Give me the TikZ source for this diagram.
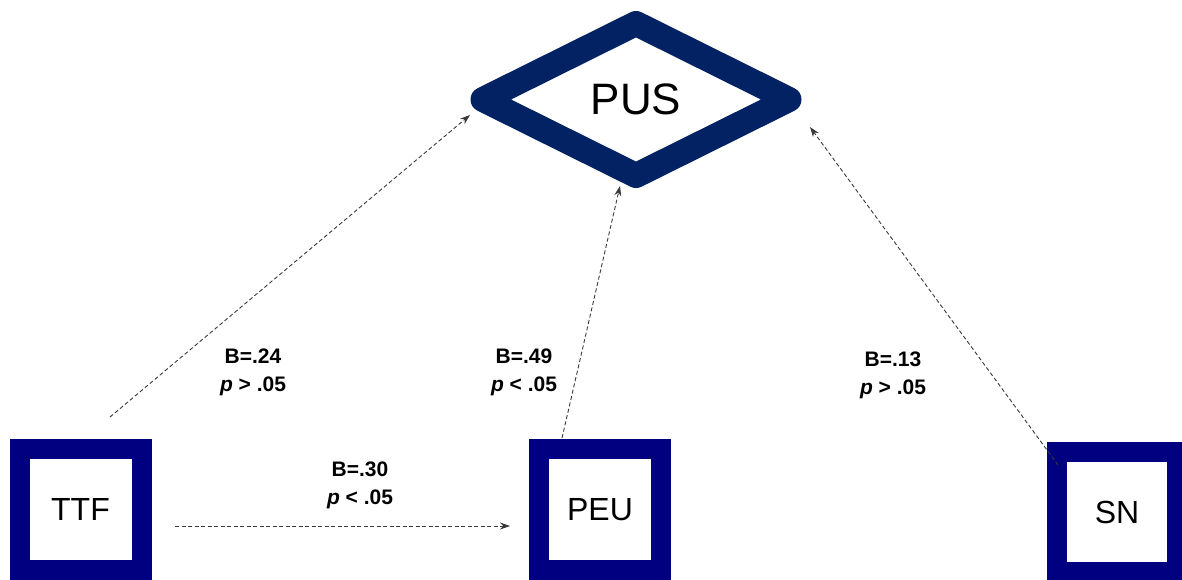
\documentclass[tikz,border=0pt]{standalone}
\usepackage{fontspec}
\setmainfont{Liberation Sans}
\usetikzlibrary{arrows.meta}
\definecolor{boxnavy}{HTML}{000080}
\definecolor{dianavy}{HTML}{032263}
\definecolor{linegray}{HTML}{3A3A3A}
\tikzset{
  varbox/.style={draw=boxnavy, line width=20pt, fill=white, minimum width=122pt, minimum height=121pt, inner sep=0pt, font=\fontsize{32}{36}\selectfont},
  diatext/.style={inner sep=0pt, font=\fontsize{44}{50}\selectfont},
  diaframe/.style={draw=dianavy, line width=25pt, line join=round, fill=white},
  path/.style={draw=linegray, line width=0.9pt, dash pattern=on 4pt off 2.5pt, -{Stealth[length=10pt,width=7pt]}},
  coef/.style={align=center, font=\fontsize{21}{28}\selectfont\bfseries, inner sep=0pt}
}
\begin{document}
\begin{tikzpicture}[x=1pt,y=-1pt]
\useasboundingbox (0,0) rectangle (1182,580);
\coordinate (pusc) at (636,99.5);
\draw[diaframe] ([xshift=-153pt]pusc) -- ([yshift=76pt]pusc) -- ([xshift=153pt]pusc) -- ([yshift=-76pt]pusc) -- cycle;
\node[diatext] (pus) at (pusc) {PUS};
\node[varbox] (ttf) at (80.5,509.5) {TTF};
\node[varbox] (peu) at (600,509.5) {PEU};
\node[varbox, minimum width=120pt, minimum height=120pt] (sn) at (1117,512) {SN};
% connector end points
\coordinate (ttfA) at (110,417);
\coordinate (pusA) at (470,115);
\coordinate (peuA) at (562,438);
\coordinate (pusB) at (620,186);
\coordinate (snA) at (1058,465);
\coordinate (pusC) at (810,127);
\coordinate (ttfB) at (175,526);
\coordinate (peuB) at (510,526);
\draw[path] (ttfA) -- (pusA);
\draw[path] (peuA) -- (pusB);
\draw[path] (snA) -- (pusC);
\draw[path] (ttfB) -- (peuB);
% coefficients
\node[coef] (c1) at (253,372) {B=.24\\\textit{p} > .05};
\node[coef] (c2) at (524,372) {B=.49\\\textit{p} < .05};
\node[coef] (c3) at (893,375) {B=.13\\\textit{p} > .05};
\node[coef] (c4) at (360,485) {B=.30\\\textit{p} < .05};
\end{tikzpicture}
\end{document}
